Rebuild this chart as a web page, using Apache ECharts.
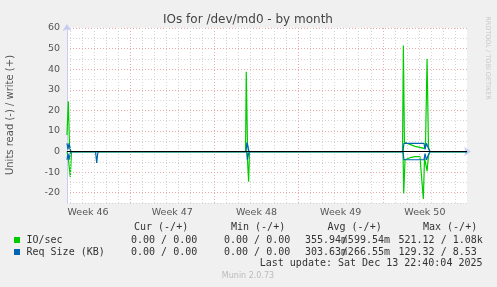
<!DOCTYPE html>
<html><head><meta charset="utf-8">
<script src="https://cdn.jsdelivr.net/npm/echarts@6/dist/echarts.min.js"></script>
<style>html,body{margin:0;padding:0;background:#f0f0f0}#c{width:497px;height:287px}</style>
</head><body><div id="c"></div>
<script>
// x values: days since the left edge of the graph (graph spans 33.25 days)
const weekLabels = ['Week 46', 'Week 47', 'Week 48', 'Week 49', 'Week 50'];
const ioWrite = [[0, 8], [0.108, 24.4], [0.21, 3], [0.33, 0], [14.84, 0], [14.90, 38.7], [15.0, 4], [15.09, 0],
  [27.89, 0], [27.96, 51.5], [28.05, 4.5], [28.51, 3.5], [28.93, 2.5], [29.34, 2.0], [29.68, 1.5], [29.80, 3],
  [29.93, 45], [30.05, 2], [30.17, 0], [33.25, 0]];
const ioRead = [[0, 0], [0.083, -2], [0.274, -12.3], [0.374, 0], [14.95, 0], [15.0, -4], [15.10, -14.7], [15.17, 0],
  [27.93, 0], [27.99, -20.4], [28.10, -4], [28.51, -3], [28.93, -2.5], [29.34, -2.5], [29.62, -23], [29.72, -3],
  [29.93, -9.5], [30.05, -2], [30.17, 0], [33.25, 0]];
const reqWrite = [[0, 4], [0.083, 1], [0.166, 4], [0.30, 0], [14.88, 0], [14.95, 4.4], [15.05, 2], [15.13, 0],
  [27.93, 0], [28.01, 4], [29.68, 4], [29.76, 1], [29.88, 4], [30.01, 2], [30.17, 0], [33.25, 0]];
const reqRead = [[0, -4], [0.083, -1], [0.166, -4], [0.30, 0], [1.41, 0], [1.45, -0.6], [1.54, -0.6], [1.58, 0],
  [2.37, 0], [2.47, -5.5], [2.55, -1], [2.62, 0], [14.95, 0], [15.0, -4], [15.09, -1], [15.17, 0],
  [27.93, 0], [28.01, -4], [29.68, -4], [29.76, -1], [29.88, -4], [30.01, -2], [30.17, 0], [33.25, 0]];
const legendNames = ['IO/sec', 'Req Size (KB)'];
const statHeaders = ['Cur (-/+)', 'Min (-/+)', 'Avg (-/+)', 'Max (-/+)'];
const statCur = ['0.00 / 0.00', '0.00 / 0.00'];
const statMin = ['0.00 / 0.00', '0.00 / 0.00'];
const statAvgRead = ['355.94m', '303.63m'];
const statAvgWrite = ['/599.54m', '/266.55m'];
const statMax = ['521.12 / 1.08k', '129.32 / 8.53'];
const lastUpdate = 'Last update: Sat Dec 13 22:40:04 2025';

const GREEN = '#00cc00', BLUE = '#0066b3';
const RED = '#eeaaaa', GREY = '#d4d4d4';
const X_MAX = 33.25, FIRST_MIDNIGHT = 0.25, FIRST_WEEK = 5.25;

// vertical grid: midnight lines (grey) and week-start lines (red)
const dayLines = [], weekLines = [];
for (let d = FIRST_MIDNIGHT; d < X_MAX; d += 1) {
  const isWeek = Math.abs(((d - FIRST_WEEK) % 7 + 7) % 7) < 1e-6;
  (isWeek ? weekLines : dayLines).push({xAxis: d});
}

const mono = '10px "DejaVu Sans Mono"';
const txt = (x, y, text, opt) => Object.assign({type: 'text', x: x, y: y, silent: true,
  style: Object.assign({text: text, font: mono, fill: '#333', textAlign: 'left', textVerticalAlign: 'middle'}, opt || {})});
const graphics = [
  txt(248, 19.5, 'IOs for /dev/md0 - by month', {font: '12px "DejaVu Sans"', fill: '#444', textAlign: 'center'}),
  Object.assign(txt(10, 115, 'Units read (-) / write (+)', {font: '10px "DejaVu Sans"', fill: '#555', textAlign: 'center'}), {rotation: Math.PI / 2}),
  Object.assign(txt(488, 58, 'RRDTOOL / TOBI OETIKER', {font: '6.5px "DejaVu Sans"', fill: '#c8c8c8', textAlign: 'center'}), {rotation: -Math.PI / 2}),
  txt(134, 227.5, statHeaders[0]), txt(231, 227.5, statHeaders[1]), txt(327.5, 227.5, statHeaders[2]), txt(423, 227.5, statHeaders[3]),
  {type: 'rect', shape: {x: 14, y: 237, width: 6, height: 6}, style: {fill: GREEN}, silent: true},
  {type: 'rect', shape: {x: 14, y: 249, width: 6, height: 6}, style: {fill: BLUE}, silent: true},
  txt(482.5, 263.5, lastUpdate, {textAlign: 'right'}),
  txt(248, 276, 'Munin 2.0.73', {font: '8px "DejaVu Sans"', fill: '#bbb', textAlign: 'center'})
];
[240, 252].forEach((y, r) => {
  graphics.push(txt(26.5, y, legendNames[r]));
  graphics.push(txt(131, y, statCur[r]));
  graphics.push(txt(224, y, statMin[r]));
  graphics.push(txt(305, y, statAvgRead[r]));
  graphics.push(txt(390, y, statAvgWrite[r], {textAlign: 'right'}));
  graphics.push(txt(398.5, y, statMax[r]));
});

const lineSeries = (data, color) => ({type: 'line', data: data, symbol: 'none', showSymbol: false, z: 3,
  lineStyle: {width: 1.2, color: color}, itemStyle: {color: color}, animation: false, silent: true});
const gridSeries = (lines, color) => ({type: 'line', data: [], z: 1, silent: true, animation: false,
  markLine: {silent: true, symbol: ['none', 'none'], label: {show: false}, animation: false,
    lineStyle: {color: color, width: 1, type: [1, 2]}, data: lines}});

const chart = echarts.init(document.getElementById('c'), null, {renderer: 'canvas'});
chart.setOption({
  backgroundColor: '#f0f0f0',
  animation: false,
  grid: {left: 67, right: 30, top: 28, bottom: 84, show: true, backgroundColor: '#ffffff', borderWidth: 0},
  xAxis: {
    type: 'value', min: 0, max: X_MAX, interval: 0.25,
    axisLine: {show: true, lineStyle: {color: '#c8ccf2', width: 1}, symbol: ['none', 'arrow'], symbolSize: [7, 7], symbolOffset: [0, 4]},
    axisTick: {show: false},
    axisLabel: {
      show: true, margin: 5, color: '#555', fontFamily: 'DejaVu Sans', fontSize: 9.5,
      formatter: v => { const k = (v - 1.75) / 7; const r = Math.round(k); return (Math.abs(k - r) < 1e-6 && r >= 0 && r < weekLabels.length) ? weekLabels[r] : ''; }
    },
    splitLine: {show: false}
  },
  yAxis: {
    type: 'value', min: -25, max: 60, interval: 5,
    axisLine: {show: true, lineStyle: {color: '#c8ccf2', width: 1}, symbol: ['none', 'arrow'], symbolSize: [7, 7], symbolOffset: [0, 4]},
    axisTick: {show: false},
    axisLabel: {show: true, margin: 7, color: '#555', fontFamily: 'DejaVu Sans', fontSize: 9.5,
      formatter: v => (Math.round(v) % 10 === 0 ? String(v) : '')},
    splitLine: {show: true, lineStyle: {color: [GREY, RED], width: 1, type: [1, 2]}}
  },
  series: [
    gridSeries(dayLines, GREY),
    gridSeries(weekLines, RED),
    lineSeries(ioWrite, GREEN),
    lineSeries(ioRead, GREEN),
    lineSeries(reqWrite, BLUE),
    lineSeries(reqRead, BLUE),
    {type: 'line', data: [], z: 10, silent: true, animation: false,
      markLine: {silent: true, symbol: ['none', 'none'], label: {show: false}, animation: false, z: 10,
        lineStyle: {color: '#000', width: 1, type: 'solid'}, data: [{yAxis: 0}]}}
  ],
  graphic: graphics
});
</script></body></html>
